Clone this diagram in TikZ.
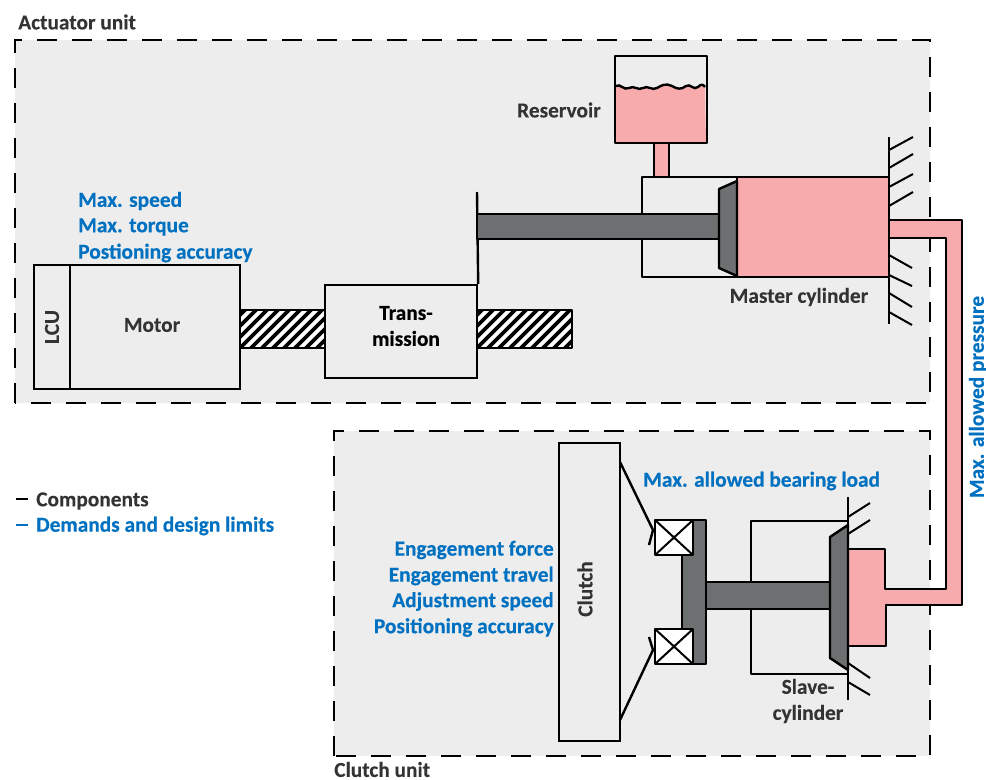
\documentclass[tikz,border=0pt]{standalone}
\usepackage{fontspec}
\setmainfont{Carlito}
\newfontfamily\heavy[UprightFont=* Bold,FakeBold=0.35]{Carlito}
\newfontfamily\medfont[UprightFont=* Bold,FakeBold=0.1]{Carlito}
\definecolor{bgG}{HTML}{EDEDED}
\definecolor{fluid}{HTML}{F8ABAD}
\definecolor{steel}{HTML}{6D7070}
\definecolor{limit}{HTML}{0070C0}
\definecolor{lbl}{HTML}{333333}
\newcommand{\wavepath}{(616,86) .. controls (620,83) and (624,91) .. (629,88) .. controls (634,85) and (638,91) .. (643,88)
  .. controls (648,85) and (652,91) .. (657,88) .. controls (662,85) and (666,83) .. (672,86)
  .. controls (677,89) and (681,90) .. (686,86) .. controls (690,83) and (694,91) .. (698,87)
  .. controls (701,84) and (703,84) .. (705,87)}
\tikzset{
  unitbg/.style={fill=bgG,draw=none},
  unitframe/.style={draw=black,line width=2pt,dash pattern=on 15pt off 11.25pt},
  part/.style={draw=black,line width=1.8pt,line join=round},
  thinpart/.style={draw=black,line width=1.5pt},
  hatchline/.style={draw=black,line width=1.5pt},
  boxn/.style={draw=black,line width=1.8pt,inner sep=0pt,fill=bgG,font=\medfont\fontsize{16}{19}\selectfont,text=lbl,align=center},
  lab/.style={inner sep=0pt,font=\medfont\fontsize{16}{19.5}\selectfont,text=lbl,align=center},
  heavylab/.style={inner sep=0pt,font=\heavy\fontsize{16}{19.5}\selectfont,text=black,align=center},
  demand/.style={inner sep=0pt,font=\heavy\fontsize{16}{19.5}\selectfont,text=limit},
}
\begin{document}
\begin{tikzpicture}[x=0.75pt,y=-0.75pt]
\useasboundingbox (0,0) rectangle (986,779);
% backgrounds
\fill[unitbg] (15,40) rectangle (930,403);
\fill[unitbg] (334,431) rectangle (930,756);
% frames
\draw[unitframe] (15,403) -- (15,40) -- (930,40) -- (930,403) -- cycle;
\draw[unitframe] (334,756) -- (334,431) -- (930,431) -- (930,756) -- cycle;
% hydraulic pipe
\path[part,fill=fluid] (889,220) -- (962,220) -- (962,605) -- (886,605) -- (886,646) -- (848,646) -- (848,549) -- (885,549) -- (885,589) -- (946,589) -- (946,238) -- (889,238) -- cycle;
% shafts
\foreach \xa/\xb in {240/325,477/572}{
  \begin{scope}
    \clip (\xa,310) rectangle (\xb,348);
    \fill[white] (\xa,310) rectangle (\xb,348);
    \foreach \i in {0,...,45}{
      \draw[line width=2.8pt] ({\xa-50+\i*11},354) -- ({\xa-50+\i*11+50},304);
    }
  \end{scope}
  \draw[part] (\xa,310) rectangle (\xb,348);
}
% motor, LCU, transmission
\node[boxn,minimum width=36*0.75pt,minimum height=124*0.75pt] (lcu) at (52,327) {\rotatebox{90}{LCU}};
\node[boxn,minimum width=170*0.75pt,minimum height=124*0.75pt] (motor) at (155,327) {};
\node[lab] (motorlab) at (152,325) {Motor};
\node[boxn,minimum width=152*0.75pt,minimum height=93*0.75pt] (trans) at (401,331.5) {};
\node[heavylab] (translab) at (406,326) {Trans-\\mission};
\coordinate (leverTop) at (477,192);
\draw[part] (trans.north east) -- (leverTop);
% master cylinder
\draw[part] (737,177) -- (642,177) -- (642,277) -- (737,277);
\path[part,fill=fluid] (737,177) rectangle (889,277);
\path[part,fill=steel] (477,214) rectangle (719,239);
\path[part,fill=steel] (737,181) -- (719,189) -- (719,268) -- (737,276) -- cycle;
% reservoir
\path[part,fill=fluid] (654,143) rectangle (669,177);
\fill[fluid] \wavepath -- (706,143) -- (616,143) -- cycle;
\draw[line width=1.8pt] \wavepath;
\draw[part] (615,56) rectangle (707,143);
% master wall
\draw[hatchline] (889,137) -- (889,220);
\draw[hatchline] (889,238) -- (889,324);
\foreach \a/\b in {150/137,168/154,187/174,206/192}{\draw[hatchline] (889,\a) -- (913,\b);}
\foreach \a/\b in {255/268,275/286,293/307,312/325}{\draw[hatchline] (889,\a) -- (912,\b);}
% clutch
\node[boxn,minimum width=61*0.75pt,minimum height=298*0.75pt] (clutch) at (589.5,592) {};
\node[lab,rotate=90] (clutchlab) at (585,589) {Clutch};
% carrier and rod
\path[part,fill=steel] (682,520) -- (706,520) -- (706,664) -- (682,664) -- cycle;
\draw[part] (751,582) -- (751,521) -- (847,521);
\draw[part] (751,609) -- (751,674) -- (847,674);
\path[part,fill=steel] (706,582) rectangle (830,609);
\path[part,fill=steel] (848,525) -- (830,537) -- (830,658) -- (848,670) -- cycle;
% bearings
\foreach \t/\b in {520/555,629/664}{
  \path[part,fill=white] (655,\t) rectangle (693,\b);
  \draw[thinpart] (655,\t) -- (693,\b);
  \draw[thinpart] (655,\b) -- (693,\t);
}
\coordinate (clT) at (620,462);
\coordinate (clB) at (620,720);
\coordinate (bkT) at (653,530);
\coordinate (bkB) at (653,650);
\draw[part] (clT) -- (bkT) -- (649,545);
\draw[part] (clB) -- (bkB) -- (649,637);
% slave wall
\draw[hatchline] (848,497) -- (848,700);
\foreach \a/\b in {517/503,534/520}{\draw[hatchline] (848,\a) -- (870,\b);}
\foreach \a/\b in {663/678,682/695}{\draw[hatchline] (848,\a) -- (870,\b);}
% labels
\node[lab,anchor=west] (actlab) at (18,22) {Actuator unit};
\node[lab,anchor=west] (cllab) at (334,769.5) {Clutch unit};
\node[lab] (reslab) at (559,110) {Reservoir};
\node[lab] (mclab) at (799,297) {Master cylinder};
\node[lab] (sclab) at (808,701) {Slave-\\cylinder};
\node[demand,anchor=west] (d1) at (78,201) {Max. speed};
\node[demand,anchor=west] (d2) at (78,227) {Max. torque};
\node[demand,anchor=west] (d3) at (78,253) {Postioning accuracy};
\node[demand,anchor=west] (d4) at (643,481) {Max. allowed bearing load};
\node[demand,anchor=east] (d5) at (554,550) {Engagement force};
\node[demand,anchor=east] (d6) at (554,576) {Engagement travel};
\node[demand,anchor=east] (d7) at (554,601.5) {Adjustment speed};
\node[demand,anchor=east] (d8) at (554,627.5) {Positioning accuracy};
\node[demand,rotate=90] (d9) at (978,397) {Max. allowed pressure};
\coordinate (lgA) at (16,499); \coordinate (lgB) at (28,499);
\draw[line width=1.8pt] (lgA) -- (lgB);
\coordinate (lgC) at (16,525); \coordinate (lgD) at (28,525);
\draw[limit,line width=1.8pt] (lgC) -- (lgD);
\node[lab,anchor=west] (lg1) at (36,501) {Components};
\node[demand,anchor=west] (lg2) at (36,526) {Demands and design limits};
\end{tikzpicture}
\end{document}
